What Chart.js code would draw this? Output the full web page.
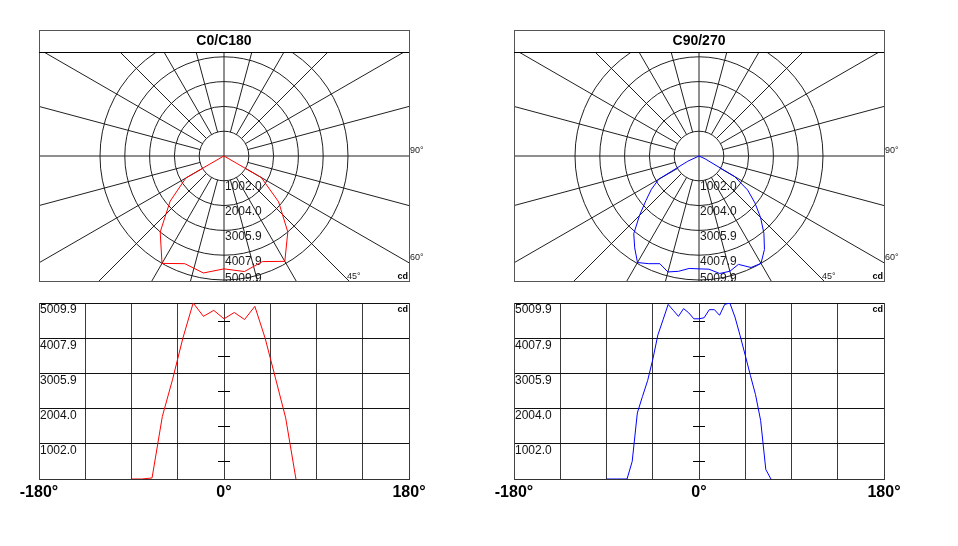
<!DOCTYPE html>
<html>
<head>
<meta charset="utf-8">
<script src="https://cdn.jsdelivr.net/npm/chart.js@4.4.0/dist/chart.umd.min.js"></script>
<style>
  html, body { margin: 0; padding: 0; background: #fff; }
  #wrap { position: relative; width: 958px; height: 546px; overflow: hidden; }
  canvas { position: absolute; }
</style>
</head>
<body>
<div id="wrap">
  <canvas id="polarC0" width="440" height="290" style="left:0;top:0"></canvas>
  <canvas id="linC0" width="440" height="220" style="left:0;top:290px"></canvas>
  <canvas id="polarC90" width="440" height="290" style="left:475px;top:0"></canvas>
  <canvas id="linC90" width="440" height="220" style="left:475px;top:290px"></canvas>
</div>
<script>
// intensity rings / y ticks (cd)
const ringValues = [1002.0, 2004.0, 3005.9, 4007.9, 5009.9];
const ringLabels = ["1002.0", "2004.0", "3005.9", "4007.9", "5009.9"];
// labelled angles
const xLabelAngles = [-180, 0, 180];
const polarAngleLabels = [90, 60, 45];

// C0/C180 plane
const c0Angles = [-90, -80, -70, -60, -50, -40, -30, -20, -10, 0, 10, 20, 30, 40, 50, 60, 70];
const c0Values = [0, 0, 30, 1780, 2840, 4010, 5009.9, 4630, 4800, 4560, 4740, 4540, 4915, 4010, 2880, 1740, 0];

// C90/C270 plane
const c90Angles = [-90, -85, -80, -75, -70, -65, -60, -55, -50, -45, -40, -35, -30, -25, -20, -15, -10, -5,
  0, 5, 10, 15, 20, 25, 30, 35, 40, 45, 50, 55, 60, 65, 70];
const c90Values = [0, 0, 0, 0, 0, 500, 1880, 2350, 2800, 3400, 4100, 4530, 4970, 4800, 4630, 4850, 4730, 4560,
  4560, 4590, 4820, 4820, 4660, 4970, 5009.9, 4610, 4080, 3520, 2950, 2400, 1660, 270, 0];

Chart.defaults.font.family = "'Liberation Sans', Arial, sans-serif";
Chart.defaults.animation = false;
Chart.defaults.plugins.legend.display = false;
Chart.defaults.plugins.tooltip.enabled = false;

const GRID = "#202020";
const rad = d => d * Math.PI / 180;

// outer ring radius in px, and distance of centre to box sides
const ringPx = 124, halfW = 185, upPx = 104, downPx = 125;
const k = ringValues[ringValues.length - 1] / ringPx;

const polarGrid = {
  id: "polarGrid",
  beforeDatasetsDraw(chart) {
    const { ctx, chartArea: a, scales: { x, y } } = chart;
    const cx = x.getPixelForValue(0), cy = y.getPixelForValue(0);
    const px = v => x.getPixelForValue(v) - cx;
    ctx.save();
    ctx.beginPath();
    ctx.rect(a.left, a.top, a.width, a.height);
    ctx.clip();
    ctx.strokeStyle = GRID;
    ctx.lineWidth = 1;
    ringValues.forEach(v => {
      ctx.beginPath();
      ctx.arc(cx, cy, px(v), 0, Math.PI * 2);
      ctx.stroke();
    });
    const r0 = px(ringValues[0]);
    for (let d = 0; d < 360; d += 15) {
      const s = Math.sin(rad(d)), c = Math.cos(rad(d));
      const start = d % 90 === 0 ? 0 : r0;
      ctx.beginPath();
      ctx.moveTo(cx + s * start, cy + c * start);
      ctx.lineTo(cx + s * 1000, cy + c * 1000);
      ctx.stroke();
    }
    ctx.fillStyle = "#1a1a1a";
    ctx.font = "12px 'Liberation Sans', Arial";
    ctx.textAlign = "left";
    ctx.textBaseline = "middle";
    ringValues.forEach((v, i) => {
      const ly = Math.min(cy + px(v) + 6, a.bottom - 2);
      ctx.fillText(ringLabels[i], cx + 1, ly);
    });
    ctx.restore();
  },
  afterDraw(chart) {
    const { ctx, chartArea: a, scales: { x, y } } = chart;
    const cx = x.getPixelForValue(0), cy = y.getPixelForValue(0);
    const top = chart.titleBlock.top;
    ctx.save();
    ctx.strokeStyle = "#555";
    ctx.lineWidth = 1;
    ctx.strokeRect(a.left + 0.5, top + 0.5, a.width, a.bottom - top);
    ctx.strokeStyle = "#000";
    ctx.beginPath();
    ctx.moveTo(a.left, a.top + 0.5);
    ctx.lineTo(a.right, a.top + 0.5);
    ctx.stroke();
    // angle labels where spokes leave the box
    ctx.fillStyle = "#222";
    ctx.font = "9px 'Liberation Sans', Arial";
    ctx.textAlign = "left";
    polarAngleLabels.forEach(d => {
      const s = Math.sin(rad(d)), c = Math.cos(rad(d));
      const tR = (a.right - cx) / s;
      const tB = c > 1e-6 ? (a.bottom - cy) / c : Infinity;
      if (tR <= tB) {
        ctx.textBaseline = "middle";
        ctx.fillText(d + "°", a.right + 1, cy + c * tR - 5);
      } else {
        ctx.textBaseline = "alphabetic";
        ctx.fillText(d + "°", cx + s * tB - 2, a.bottom - 2);
      }
    });
    ctx.fillStyle = "#000";
    ctx.font = "bold 9px 'Liberation Sans', Arial";
    ctx.textAlign = "right";
    ctx.textBaseline = "alphabetic";
    ctx.fillText("cd", a.right - 1, a.bottom - 2);
    ctx.restore();
  }
};

const linearExtras = {
  id: "linearExtras",
  afterDatasetsDraw(chart) {
    const { ctx, chartArea: a, scales: { x, y } } = chart;
    const x0 = x.getPixelForValue(0);
    const steps = [0, ...ringValues];
    ctx.save();
    ctx.strokeStyle = "#000";
    ctx.lineWidth = 1;
    for (let i = 1; i < steps.length; i++) {
      const yy = Math.round(y.getPixelForValue((steps[i - 1] + steps[i]) / 2)) + 0.5;
      ctx.beginPath();
      ctx.moveTo(x0 - 6, yy);
      ctx.lineTo(x0 + 6, yy);
      ctx.stroke();
    }
    ctx.fillStyle = "#000";
    ctx.font = "bold 9px 'Liberation Sans', Arial";
    ctx.textAlign = "right";
    ctx.textBaseline = "top";
    ctx.fillText("cd", a.right - 1, a.top + 2);
    ctx.restore();
  }
};

function makePolar(id, title, angles, values, color) {
  const pts = angles.map((d, i) => ({ x: values[i] * Math.sin(rad(d)), y: -values[i] * Math.cos(rad(d)) }));
  return new Chart(document.getElementById(id), {
    type: "scatter",
    data: { datasets: [{ data: pts, showLine: true, borderColor: color, borderWidth: 1, pointRadius: 0 }] },
    options: {
      responsive: false,
      layout: { padding: { left: 39, top: 30, right: 31, bottom: 9 } },
      plugins: {
        title: {
          display: true, text: title, color: "#000",
          font: { size: 14, weight: "bold" },
          padding: { top: 3, bottom: 2.2 }
        }
      },
      scales: {
        x: { type: "linear", display: false, min: -halfW * k, max: halfW * k },
        y: { type: "linear", display: false, min: -downPx * k, max: upPx * k }
      }
    },
    plugins: [polarGrid]
  });
}

function makeLinear(id, angles, values, color) {
  return new Chart(document.getElementById(id), {
    type: "line",
    data: {
      datasets: [{
        data: angles.map((d, i) => ({ x: d, y: values[i] })),
        borderColor: color, borderWidth: 1, pointRadius: 0, tension: 0
      }]
    },
    options: {
      responsive: false,
      layout: { padding: { left: 39, top: 13, right: 31, bottom: 3 } },
      scales: {
        x: {
          type: "linear", min: -180, max: 180,
          afterFit: s => { s.height = 28; },
          grid: { color: "#3a3a3a", drawTicks: false },
          border: { color: "#333" },
          ticks: {
            stepSize: 45, autoSkip: false, maxRotation: 0, padding: 4,
            color: "#000", font: { size: 16, weight: "bold" },
            callback: v => xLabelAngles.includes(v) ? v + "°" : ""
          }
        },
        y: {
          type: "linear", min: 0, max: ringValues[ringValues.length - 1],
          afterBuildTicks: s => { s.ticks = [0, ...ringValues].map(value => ({ value })); },
          afterFit: s => { s.width = 0; },
          grid: { color: "#111", drawTicks: false },
          border: { color: "#444" },
          ticks: {
            mirror: true, padding: 1, labelOffset: 7,
            color: "#111", font: { size: 12 },
            callback: (v, i) => i === 0 ? "" : ringLabels[i - 1]
          }
        }
      }
    },
    plugins: [linearExtras]
  });
}

makePolar("polarC0", "C0/C180", c0Angles, c0Values, "#ff0000");
makeLinear("linC0", c0Angles, c0Values, "#ff0000");
makePolar("polarC90", "C90/270", c90Angles, c90Values, "#0000ff");
makeLinear("linC90", c90Angles, c90Values, "#0000ff");
</script>
</body>
</html>
